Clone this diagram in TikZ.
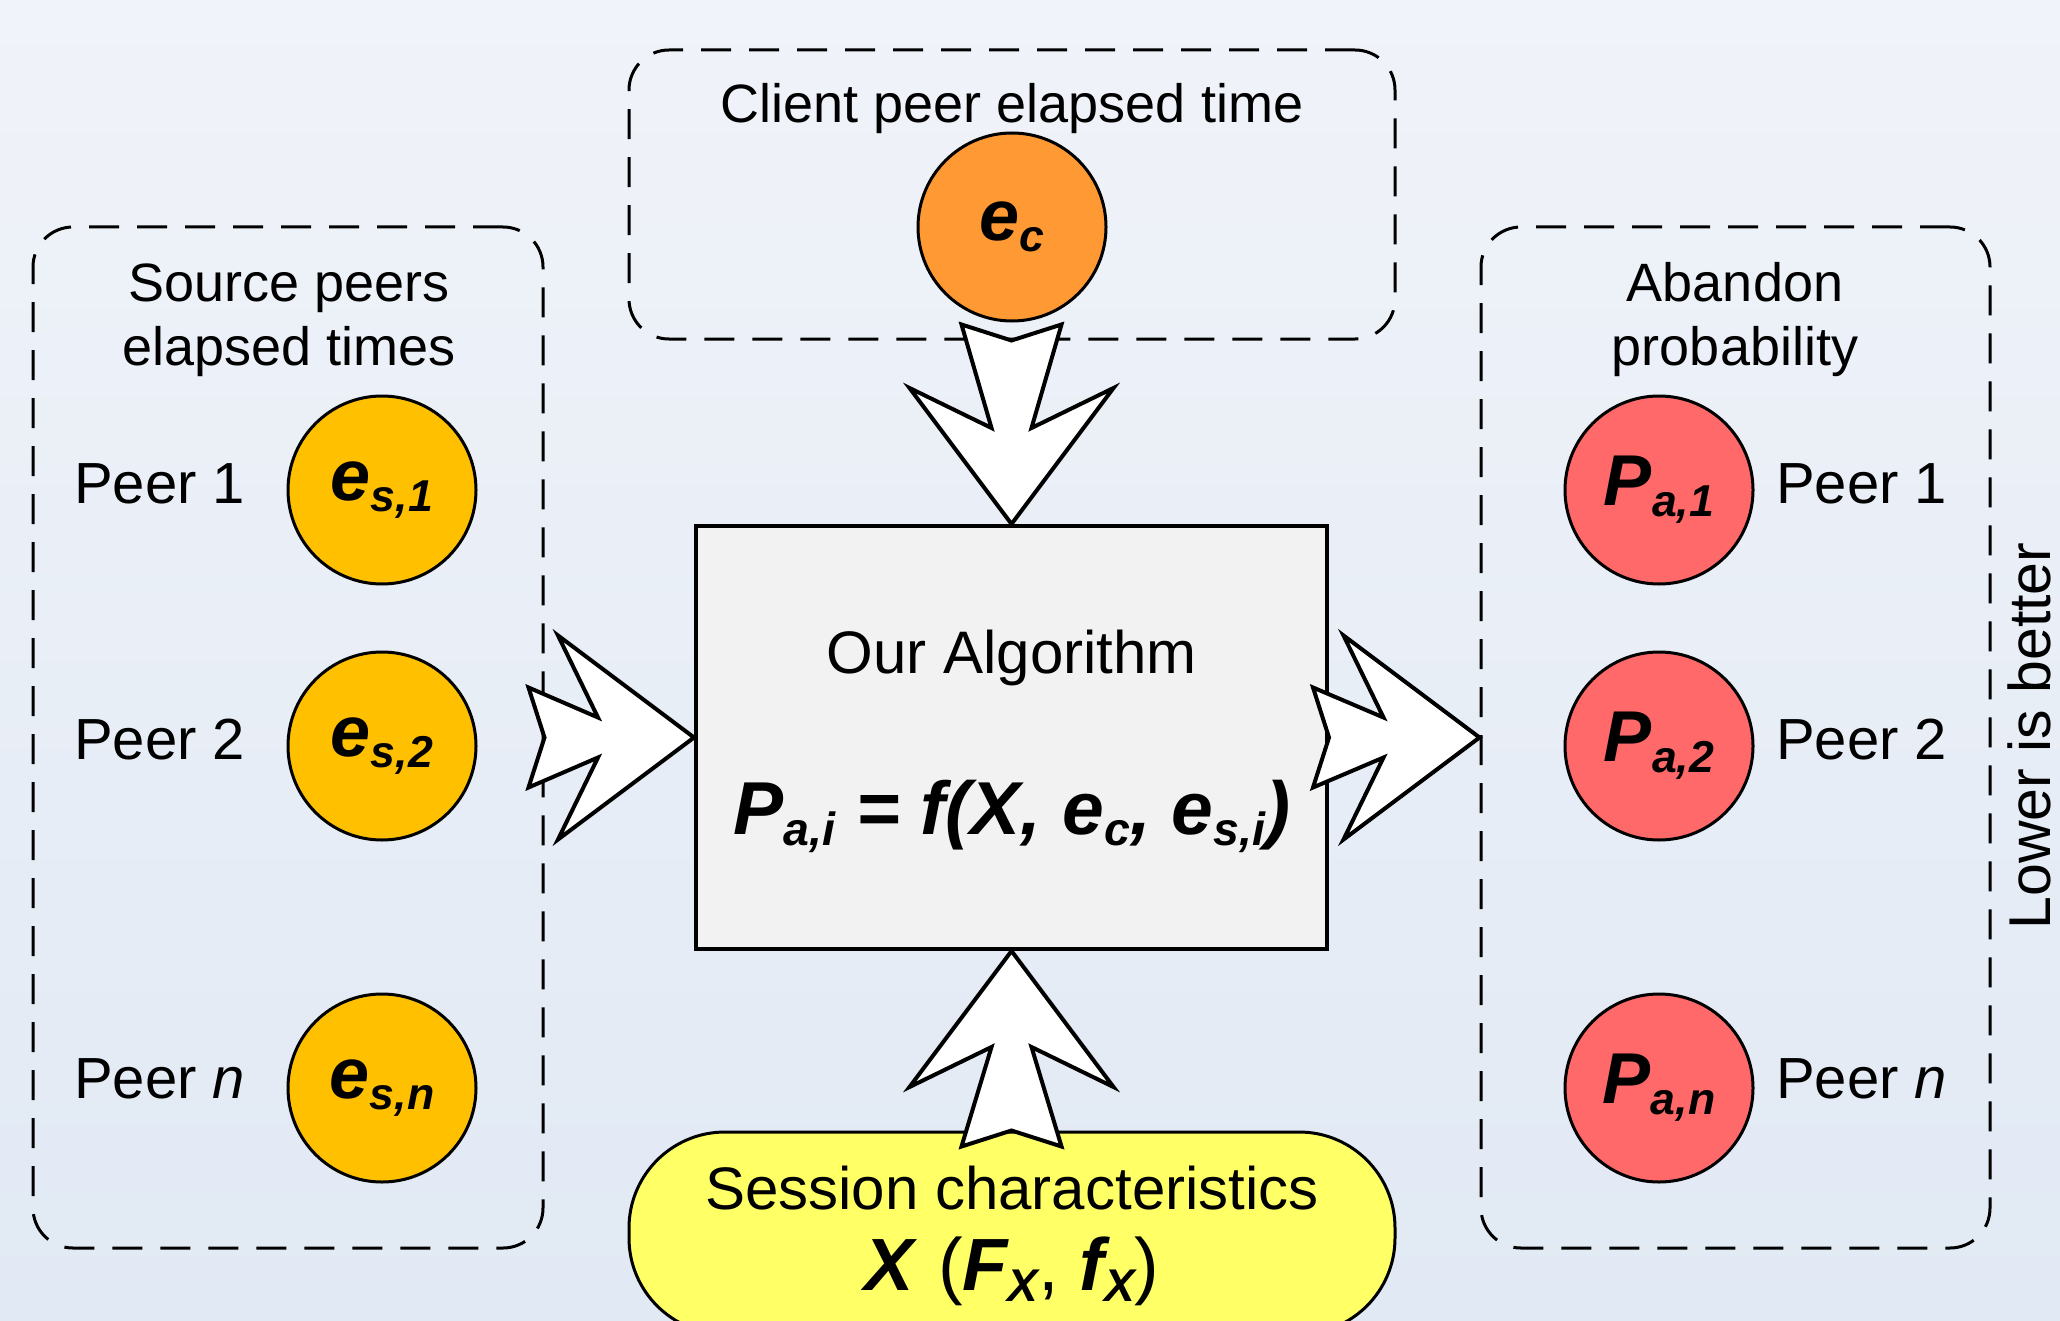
\documentclass[tikz,border=0pt]{standalone}
\usepackage{fontspec}
\setmainfont{Liberation Sans}
\usepackage{graphicx}
\usetikzlibrary{calc}
\definecolor{bgtop}{RGB}{240,243,249}
\definecolor{bgbot}{RGB}{225,233,244}
\definecolor{corange}{RGB}{255,153,51}
\definecolor{cgold}{RGB}{255,192,0}
\definecolor{cred}{RGB}{255,105,105}
\definecolor{cyel}{RGB}{255,255,102}
\definecolor{cbox}{RGB}{242,242,242}
\newcommand\sbx[1]{\raisebox{-0.15em}{\scalebox{0.62}{#1}}}
% #1 = tail node anchor, #2 = tip node anchor, #3 = direction angle
\newcommand\fatarrow[3]{%
  \draw[blockarrow] let \p1=(#1), \p2=(#2), \n1={veclen(\x2-\x1,\y2-\y1)} in
    [shift={(\p2)}, rotate=#3] (0pt,0pt) -- (-68pt,51pt) -- (-48pt,10pt) -- ({-\n1-8pt},25pt) -- ({-\n1},0pt)
    -- ({-\n1-8pt},-25pt) -- (-48pt,-10pt) -- (-68pt,-51pt) -- cycle;}
\begin{document}
\begin{tikzpicture}[x=0.5pt, y=-0.5pt,
  dashbox/.style={draw=black, line width=1.5pt, dash pattern=on 15pt off 9pt, rounded corners=20pt},
  circ/.style={circle, draw=black, line width=1.5pt, minimum size=94pt, inner sep=0pt,
    font=\fontsize{36}{40}\selectfont\bfseries\itshape},
  lbl/.style={anchor=base west, font=\fontsize{29}{34}\selectfont},
  ttl/.style={anchor=base, font=\fontsize{27}{32}\selectfont},
  big/.style={anchor=base, font=\fontsize{30}{36}\selectfont},
  blockarrow/.style={draw=black, fill=white, line width=2pt, line join=miter}]
\useasboundingbox (0,0) rectangle (2060,1321);
\clip (0,0) rectangle (2060,1321);
\shade[top color=bgtop, bottom color=bgbot] (0,0) rectangle (2060,1321);

% containers
\node[dashbox, minimum width=255pt, minimum height=510.5pt] (lbox) at (288,737.5) {};
\node[dashbox, minimum width=383pt, minimum height=144.5pt] (tbox) at (1012,194.5) {};
\node[dashbox, minimum width=254.5pt, minimum height=510.5pt] (rbox) at (1735.5,737.5) {};
\node[draw=black, fill=cbox, line width=2pt, minimum width=315.5pt, minimum height=211.5pt] (alg) at (1011.5,737.5) {};
\node[draw=black, fill=cyel, line width=1.5pt, rounded corners=48pt, minimum width=383pt, minimum height=101pt] (yel) at (1012,1233) {};

% titles
\node[ttl] (ttop) at (1012,123) {Client peer elapsed time};
\node[ttl] (tl1) at (289,301) {Source peers};
\node[ttl] (tl2) at (289,365) {elapsed times};
\node[ttl] (tr1) at (1735,301) {Abandon};
\node[ttl] (tr2) at (1735,365) {probability};

% circles
\node[circ, fill=corange] (ec) at (1012,227) {e\sbx{c}};
\node[circ, fill=cgold] (es1) at (382,490) {e\sbx{s,1}};
\node[circ, fill=cgold] (es2) at (382,746) {e\sbx{s,2}};
\node[circ, fill=cgold] (esn) at (382,1088) {e\sbx{s,n}};
\node[circ, fill=cred] (pa1) at (1659,490) {P\sbx{a,1}};
\node[circ, fill=cred] (pa2) at (1659,746) {P\sbx{a,2}};
\node[circ, fill=cred] (pan) at (1659,1088) {P\sbx{a,n}};

% peer labels
\node[lbl] (ll1) at (67,503) {Peer 1};
\node[lbl] (ll2) at (67,759) {Peer 2};
\node[lbl] (lln) at (67,1098) {Peer \textit{n}};
\node[lbl] (rl1) at (1769,503) {Peer 1};
\node[lbl] (rl2) at (1769,759) {Peer 2};
\node[lbl] (rln) at (1769,1098) {Peer \textit{n}};

% algorithm text
\node[big] (algt) at (1012,673) {Our Algorithm};
\node[anchor=base, font=\fontsize{37.5}{42}\selectfont\bfseries\itshape] (form) at (1012,834)
  {P\sbx{a,i} = f(X, e\sbx{c}, e\sbx{s,i})};

% session text
\node[big] (sess) at (1012,1209) {Session characteristics};
\node[anchor=base, font=\fontsize{37}{42}\selectfont] (sessx) at (1012,1290)
  {\textbf{\textit{X}} (\textbf{\textit{F\sbx{X}}}, \textbf{\textit{f\sbx{X}}})};

% side note
\node[rotate=90, anchor=base, inner sep=0pt, font=\fontsize{29.5}{34}\selectfont] (lower) at (2050,736) {Lower is better};

% block arrows
\fatarrow{lbox.east}{alg.west}{0}
\fatarrow{alg.east}{rbox.west}{0}
\fatarrow{tbox.south}{alg.north}{-90}
\fatarrow{yel.north}{alg.south}{90}
\end{tikzpicture}
\end{document}
